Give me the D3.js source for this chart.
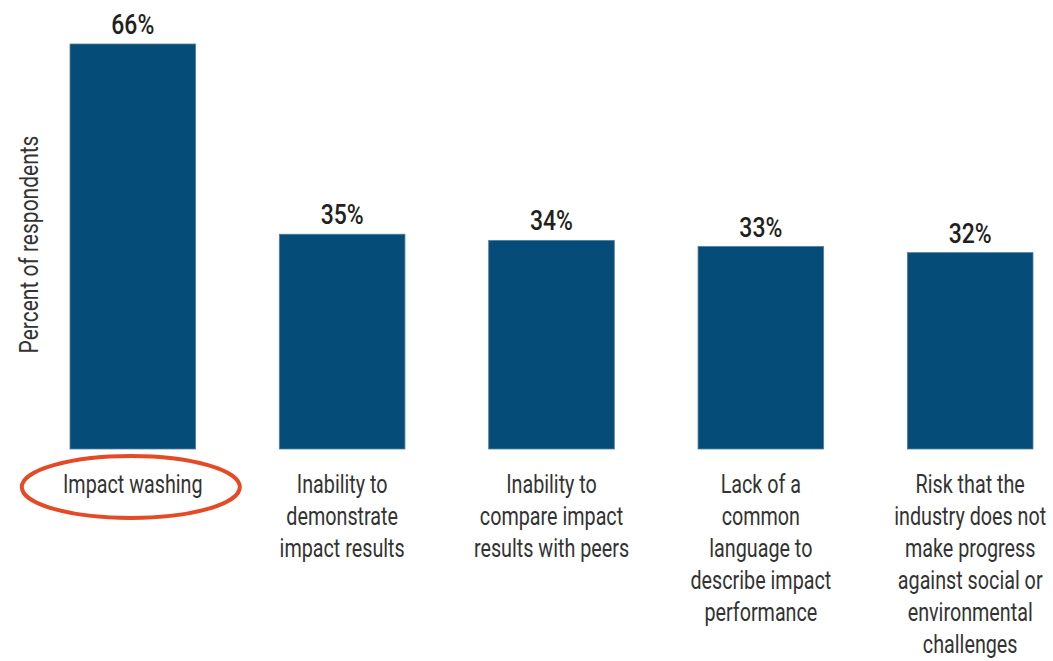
<!DOCTYPE html>
<html>
<head>
<meta charset="utf-8">
<script src="https://cdn.jsdelivr.net/npm/d3@7"></script>
<style>
  body { margin: 0; background: #fff; }
  text { font-family: "Roboto", "DejaVu Sans", sans-serif; }
</style>
</head>
<body>
<div id="chart"></div>
<script>
// Data
const categories = [
  ["Impact washing"],
  ["Inability to", "demonstrate", "impact results"],
  ["Inability to", "compare impact", "results with peers"],
  ["Lack of a", "common", "language to", "describe impact", "performance"],
  ["Risk that the", "industry does not", "make progress", "against social or", "environmental", "challenges"]
];
const values = [66, 35, 34, 33, 32];
const highlighted = [true, false, false, false, false];

const W = 1053, H = 661;
const margin = { top: 44, right: 20, bottom: 212, left: 70 };
const width = W - margin.left - margin.right;
const height = H - margin.top - margin.bottom;

const svg = d3.select("#chart")
  .append("svg")
  .attr("width", W)
  .attr("height", H);

const g = svg.append("g")
  .attr("transform", `translate(${margin.left},${margin.top})`);

// Scales
const x = d3.scaleBand()
  .domain(d3.range(values.length))
  .range([0, width])
  .paddingInner(0.4)
  .paddingOuter(0);
const y = d3.scaleLinear()
  .domain([0, 66])
  .range([height, 0]);

// Bars
g.selectAll(".bar")
  .data(values)
  .enter()
  .append("rect")
  .attr("x", (d, i) => x(i))
  .attr("y", d => y(d))
  .attr("width", x.bandwidth())
  .attr("height", d => height - y(d))
  .attr("fill", "#054d78")
  .attr("stroke", "#4f7fa3")
  .attr("stroke-width", 0.8);

// Value labels (condensed look via horizontal squeeze)
g.selectAll(".value")
  .data(values)
  .enter()
  .append("text")
  .attr("transform", (d, i) => `translate(${x(i) + x.bandwidth() / 2},${y(d) - 10}) scale(0.85,1)`)
  .attr("text-anchor", "middle")
  .attr("fill", "#231f20")
  .style("font-size", "27px")
  .style("font-weight", "500")
  .text(d => d + "%");

// Category labels
const cats = g.selectAll(".cat")
  .data(categories)
  .enter()
  .append("text")
  .attr("text-anchor", "middle")
  .attr("fill", "#333")
  .style("font-size", "25px")
  .attr("transform", (d, i) => `translate(${x(i) + x.bandwidth() / 2},${height + 44}) scale(0.79,1)`);

cats.selectAll("tspan")
  .data(d => d)
  .enter()
  .append("tspan")
  .attr("x", 0)
  .attr("y", (d, i) => i * 32)
  .text(d => d);

// Highlight ellipse
values.forEach((v, i) => {
  if (!highlighted[i]) return;
  g.append("ellipse")
    .attr("cx", x(i) + x.bandwidth() / 2 - 2)
    .attr("cy", height + 38)
    .attr("rx", 109)
    .attr("ry", 31)
    .attr("fill", "none")
    .attr("stroke", "#e44a26")
    .attr("stroke-width", 4);
});

// Y axis title
svg.append("text")
  .attr("transform", `translate(38,${margin.top + height / 2 - 2}) rotate(-90) scale(0.84,1)`)
  .attr("text-anchor", "middle")
  .attr("fill", "#333")
  .style("font-size", "25px")
  .text("Percent of respondents");
</script>
</body>
</html>
